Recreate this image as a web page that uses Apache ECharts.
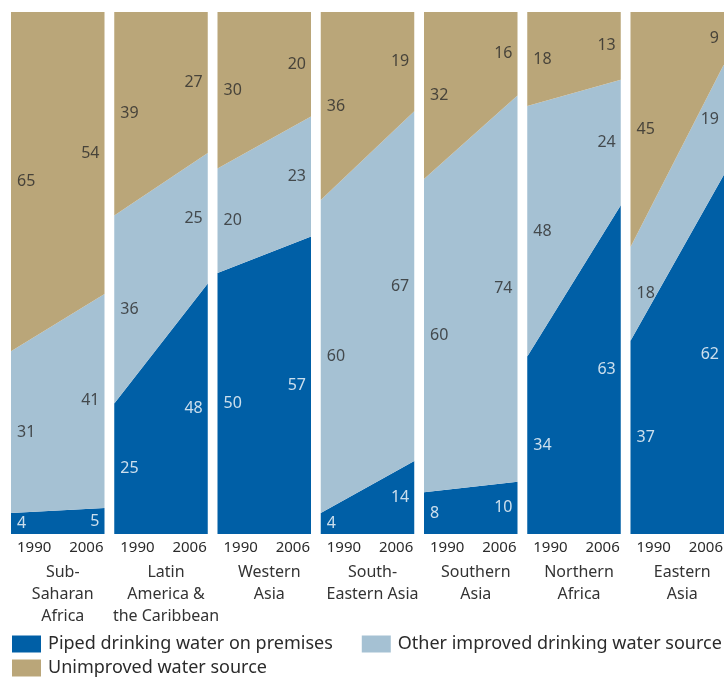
<!DOCTYPE html>
<html>
<head>
<meta charset="utf-8">
<script src="https://cdn.jsdelivr.net/npm/echarts@6/dist/echarts.min.js"></script>
<style>
  html, body { margin: 0; padding: 0; background: #fff; }
  #chart { width: 727px; height: 678px; }
</style>
</head>
<body>
<div id="chart"></div>
<script>
const regions = ['Sub-\nSaharan\nAfrica', 'Latin\nAmerica &\nthe Caribbean', 'Western\nAsia',
  'South-\nEastern Asia', 'Southern\nAsia', 'Northern\nAfrica', 'Eastern\nAsia'];
const years = ['1990', '2006'];

// [1990, 2006] per region, percent
const piped = [[4, 5], [25, 48], [50, 57], [4, 14], [8, 10], [34, 63], [37, 62]];
const otherImproved = [[31, 41], [36, 25], [20, 23], [60, 67], [60, 74], [48, 24], [18, 19]];
const unimproved = [[65, 54], [39, 27], [30, 20], [36, 19], [32, 16], [18, 13], [45, 9]];

const seriesDefs = [
  { name: 'Piped drinking water on premises', data: piped, color: '#005fa6', label: '#fff' },
  { name: 'Other improved drinking water source', data: otherImproved, color: '#a5c1d3', label: '#2b2b2b' },
  { name: 'Unimproved water source', data: unimproved, color: '#baa679', label: '#2b2b2b' }
];

const panelLeft = 11;
const panelStep = 103.25;
const panelWidth = 93.5;
const panelTop = 12;
const panelHeight = 522;

const chart = echarts.init(document.getElementById('chart'));

const grid = [];
const xAxis = [];
const yAxis = [];
const title = [];
const series = [];

regions.forEach((region, i) => {
  const left = panelLeft + i * panelStep;
  grid.push({ left: left, top: panelTop, width: panelWidth, height: panelHeight });
  xAxis.push({
    type: 'category',
    gridIndex: i,
    data: years,
    boundaryGap: false,
    axisLine: { show: false },
    axisTick: { show: false },
    axisLabel: {
      fontSize: 15,
      color: '#2b2b2b',
      margin: 6,
      alignMinLabel: 'left',
      alignMaxLabel: 'right',
      padding: [0, 1, 0, 6]
    }
  });
  yAxis.push({ type: 'value', gridIndex: i, min: 0, max: 100, show: false });
  title.push({
    text: region,
    left: left + panelWidth / 2,
    top: 556,
    textAlign: 'center',
    textStyle: { fontSize: 16, fontWeight: 'normal', color: '#333', lineHeight: 22 }
  });

  // share of each source, so each year fills the panel
  const totals = years.map((y, t) => seriesDefs.reduce((s, d) => s + d.data[i][t], 0));
  const labelPoints = [];
  const base = [0, 0];

  seriesDefs.forEach(def => {
    const shares = years.map((y, t) => def.data[i][t] / totals[t] * 100);
    series.push({
      name: def.name,
      type: 'line',
      xAxisIndex: i,
      yAxisIndex: i,
      stack: 'panel' + i,
      symbol: 'none',
      silent: true,
      itemStyle: { color: def.color },
      lineStyle: { width: 0, color: def.color },
      areaStyle: { color: def.color, opacity: 1 },
      data: shares
    });
    years.forEach((y, t) => {
      labelPoints.push({
        value: [t, base[t] + shares[t] / 2],
        label: {
          show: true,
          formatter: String(def.data[i][t]),
          position: t === 0 ? 'right' : 'left',
          distance: t === 0 ? 6 : 5,
          color: def.label,
          fontSize: 16
        }
      });
      base[t] += shares[t];
    });
  });

  series.push({
    name: 'labels' + i,
    type: 'scatter',
    xAxisIndex: i,
    yAxisIndex: i,
    symbolSize: 0,
    silent: true,
    z: 5,
    data: labelPoints
  });
});

const legendBase = {
  left: 12,
  padding: 0,
  icon: 'rect',
  itemWidth: 29,
  itemHeight: 17,
  itemGap: 29,
  selectedMode: false,
  textStyle: { fontSize: 18, color: '#2b2b2b', padding: [0, 0, 0, 2] }
};

const option = {
  animation: false,
  textStyle: { fontFamily: 'Noto Sans' },
  title: title,
  grid: grid,
  xAxis: xAxis,
  yAxis: yAxis,
  legend: [
    Object.assign({}, legendBase, { top: 635, data: [seriesDefs[0].name, seriesDefs[1].name] }),
    Object.assign({}, legendBase, { top: 659, data: [seriesDefs[2].name] })
  ],
  series: series
};

chart.setOption(option);
</script>
</body>
</html>
